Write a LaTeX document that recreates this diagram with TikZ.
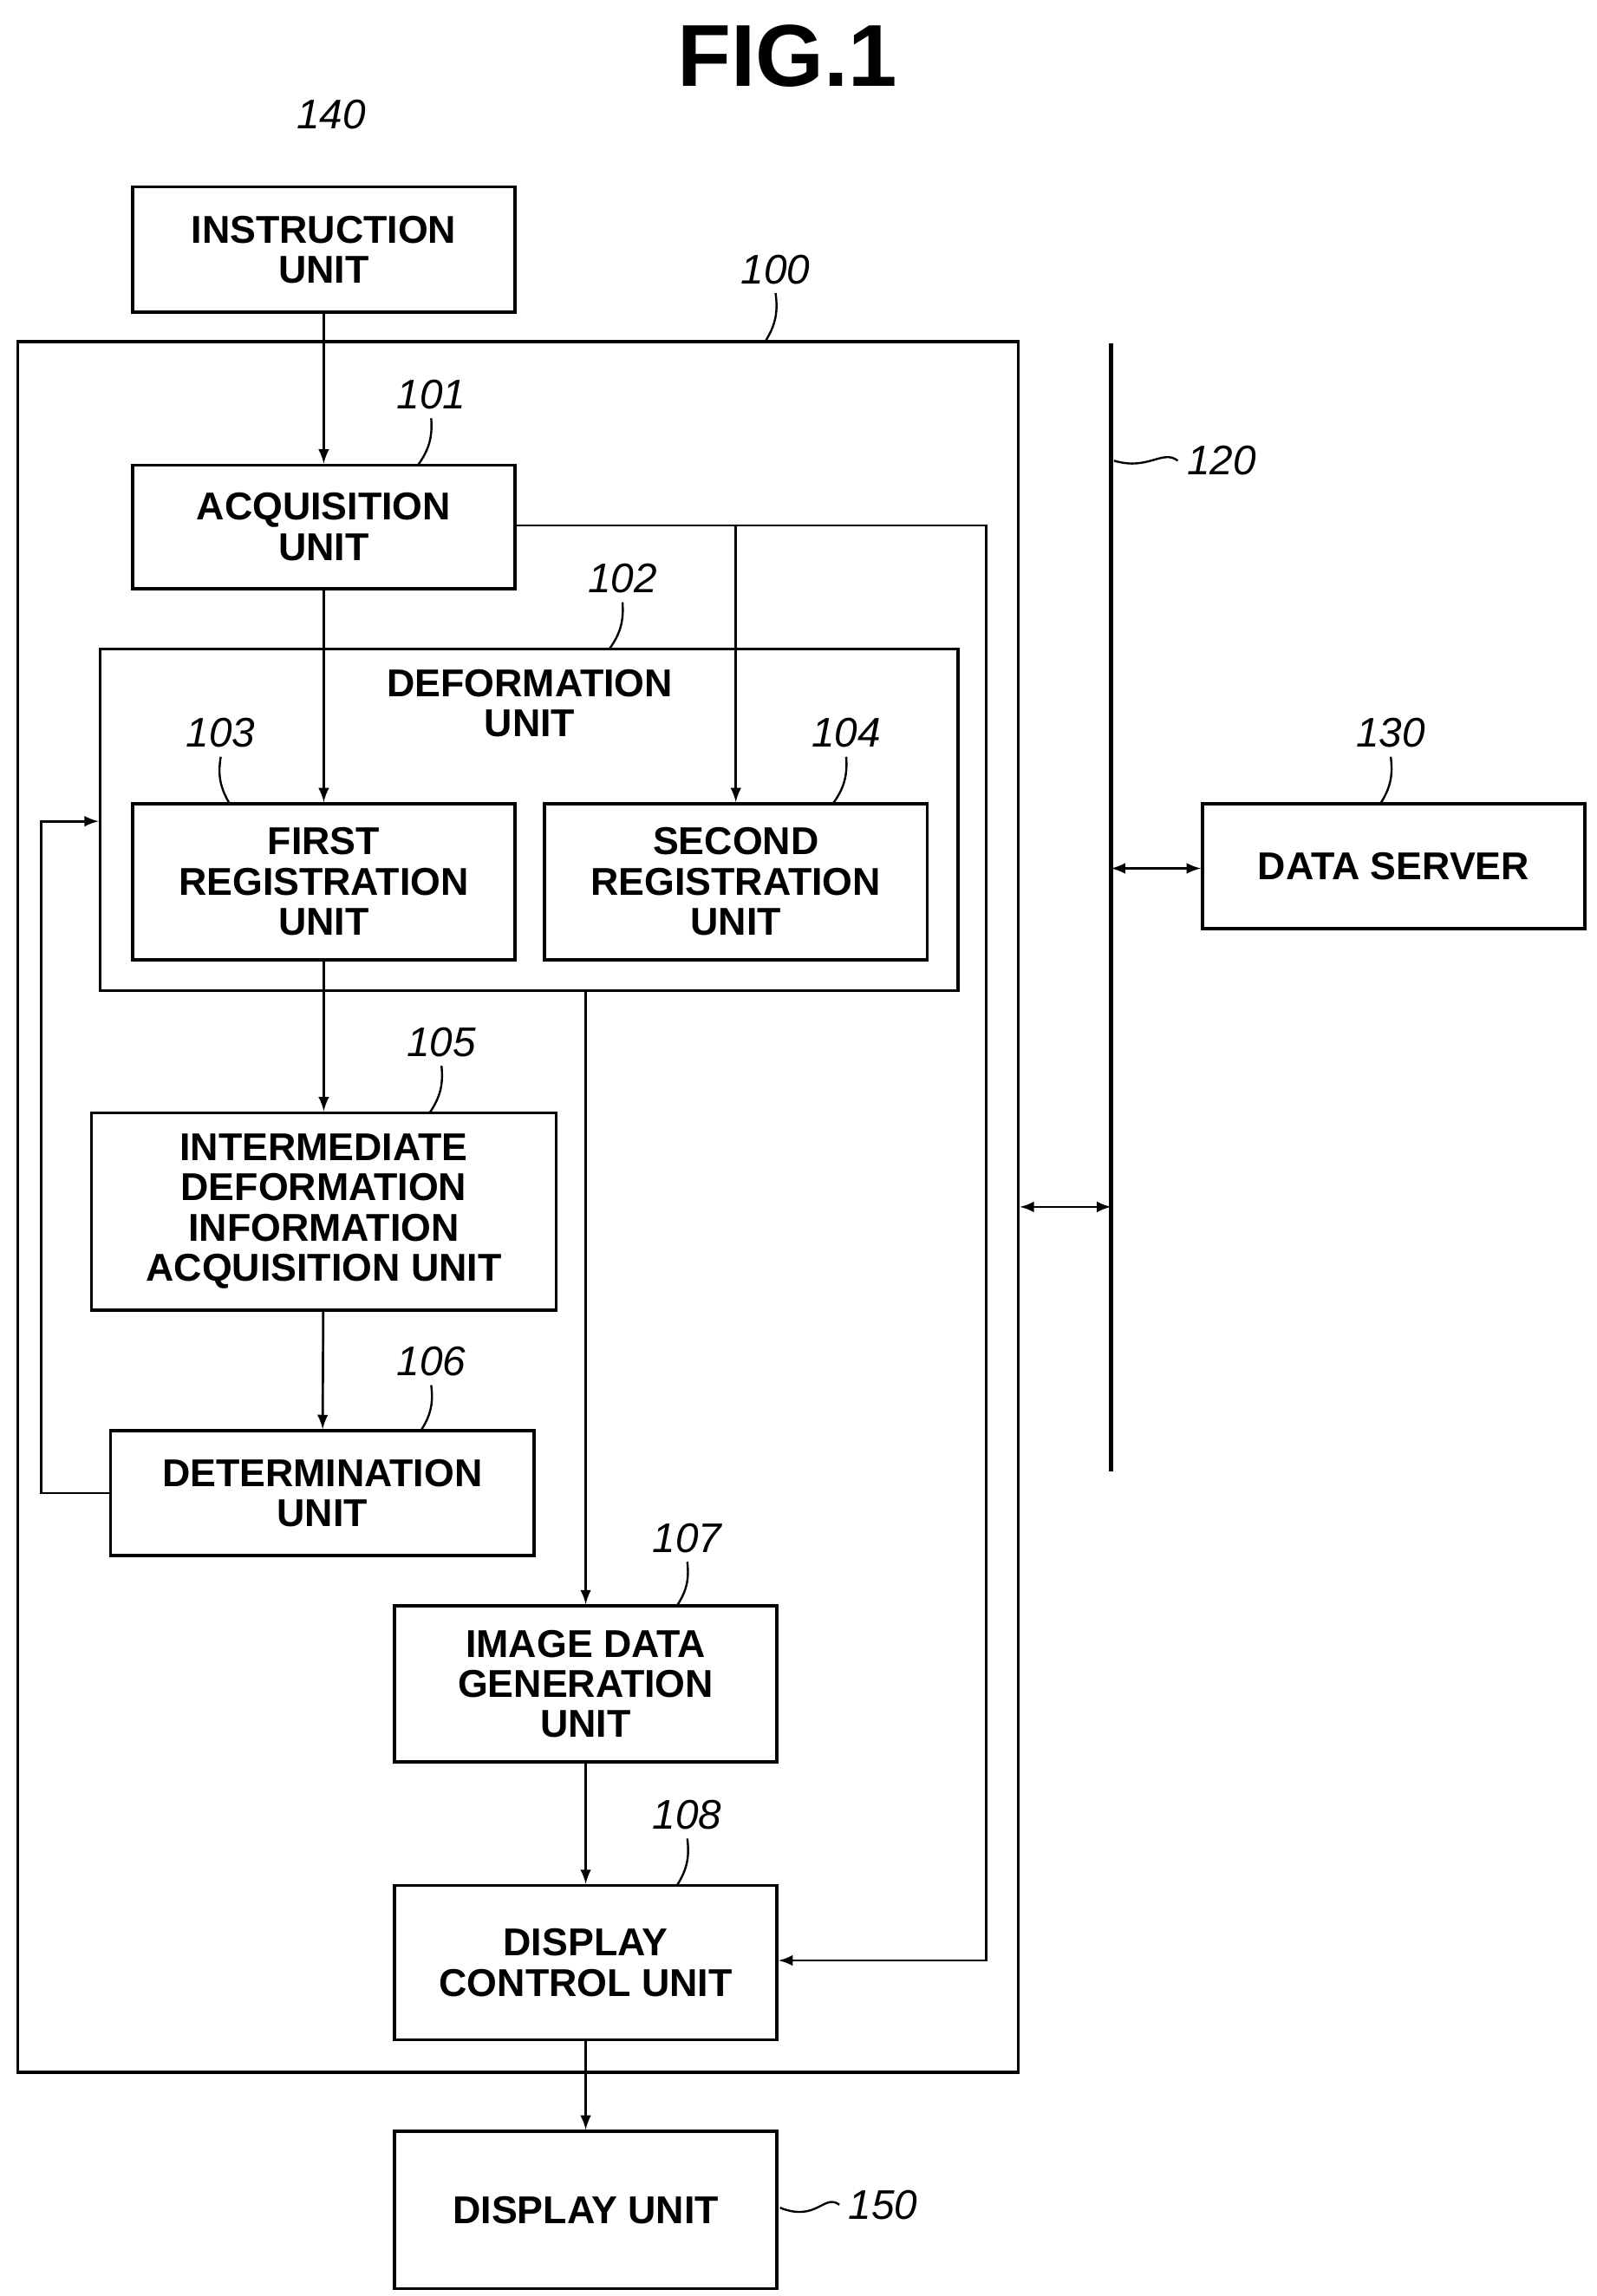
\documentclass[tikz,border=0pt]{standalone}
\usepackage{fontspec}
\setmainfont{Liberation Sans}
\usetikzlibrary{positioning}

\begin{document}
\begin{tikzpicture}[x=0.02cm, y=-0.02cm, >=latex,
  box/.style={draw, line width=1.2pt, minimum width=5.2cm, inner sep=0pt, align=center,
    font=\fontsize{15}{15.5}\selectfont\bfseries},
  num/.style={font=\fontsize{16}{16}\selectfont\itshape},
  lead/.style={line width=0.8pt},
  flow/.style={->, line width=0.9pt}]
  \useasboundingbox (0,0) rectangle (1085,1560);

  % Nodos
  \node[font=\fontsize{34}{34}\selectfont\bfseries] (fig) at (535,38) {FIG.1};
  \node[box, minimum width=13.6cm, minimum height=23.52cm] (outer) at (352,820) {};
  \node[box, minimum height=1.7cm] (instr) at (220,169.5) {INSTRUCTION\\UNIT};
  \node[box, minimum height=1.68cm] (acq) at (220,358) {ACQUISITION\\UNIT};
  \node[box, minimum width=11.66cm, minimum height=4.64cm] (defo) at (359.5,557) {};
  \node[font=\fontsize{15}{15.5}\selectfont\bfseries, align=center] (defotxt) at (360,478) {DEFORMATION\\UNIT};
  \node[box, minimum height=2.12cm] (first) at (220,599) {FIRST\\REGISTRATION\\UNIT};
  \node[box, minimum height=2.12cm] (second) at (500,599) {SECOND\\REGISTRATION\\UNIT};
  \node[box, minimum width=6.32cm, minimum height=2.68cm] (inter) at (220,823) {INTERMEDIATE\\DEFORMATION\\INFORMATION\\ACQUISITION UNIT};
  \node[box, minimum width=5.76cm, minimum height=1.7cm] (det) at (219,1014.5) {DETERMINATION\\UNIT};
  \node[box, minimum height=2.12cm] (gen) at (398,1144) {IMAGE DATA\\GENERATION\\UNIT};
  \node[box, minimum height=2.1cm] (disp) at (398,1333.5) {DISPLAY\\CONTROL UNIT};
  \node[box, minimum height=2.14cm] (dunit) at (398,1501.5) {DISPLAY UNIT};
  \node[box, minimum height=1.7cm] (server) at (947,588.5) {DATA SERVER};
  \coordinate (bustop) at (755,233);
  \coordinate (busbot) at (755,1000);
  \draw[line width=1.5pt] (bustop) -- (busbot);

  % Numeros
  \node[num] (n140) at (225,78) {140};
  \node[num] (n100) at (527,183) {100};
  \node[num] (n101) at (293,268) {101};
  \node[num] (n102) at (423,393) {102};
  \node[num] (n103) at (150,498) {103};
  \node[num] (n104) at (575,498) {104};
  \node[num] (n105) at (300,708) {105};
  \node[num] (n106) at (293,925) {106};
  \node[num] (n107) at (467,1045) {107};
  \node[num] (n108) at (467,1233) {108};
  \node[num] (n130) at (945,498) {130};
  \node[num] (n120) at (830,313) {120};
  \node[num] (n150) at (600,1498) {150};
  \draw[lead] (n100.south) to[bend left=20] (520,232);
  \draw[lead] (n101.south) to[bend left=20] (284,316);
  \draw[lead] (n102.south) to[bend left=20] (414,441);
  \draw[lead] (n103.south) to[bend right=20] (156,546);
  \draw[lead] (n104.south) to[bend left=20] (566,546);
  \draw[lead] (n105.south) to[bend left=20] (292,756);
  \draw[lead] (n106.south) to[bend left=20] (286,972);
  \draw[lead] (n107.south) to[bend left=20] (460,1091);
  \draw[lead] (n108.south) to[bend left=20] (460,1281);
  \draw[lead] (n130.south) to[bend left=20] (938,546);
  \draw[lead] (n120.west) .. controls (790,305) and (780,320) .. (757,313);
  \draw[lead] (n150.west) .. controls (560,1490) and (555,1510) .. (530,1500);

  % Flechas
  \draw[flow] (instr) -- (acq);
  \draw[flow] (acq) -- (first);
  \draw[flow] (acq.east |- 0,357) -| (670,1332) -- (disp.east |- 0,1332);
  \draw[flow] (500,357) -- (second);
  \draw[flow] (398,673) -- (gen);
  \draw[flow] (first) -- (inter);
  \draw[flow] (inter) -- (det);
  \draw[flow] (det.west) -| (28,558) -- (defo.west |- 0,558);
  \draw[flow] (gen) -- (disp);
  \draw[flow] (disp) -- (dunit);
  \draw[<->, line width=0.9pt] (outer.east |- 0,820) -- (755,820);
  \draw[<->, line width=0.9pt] (755,590) -- (server.west |- 0,590);
\end{tikzpicture}
\end{document}
